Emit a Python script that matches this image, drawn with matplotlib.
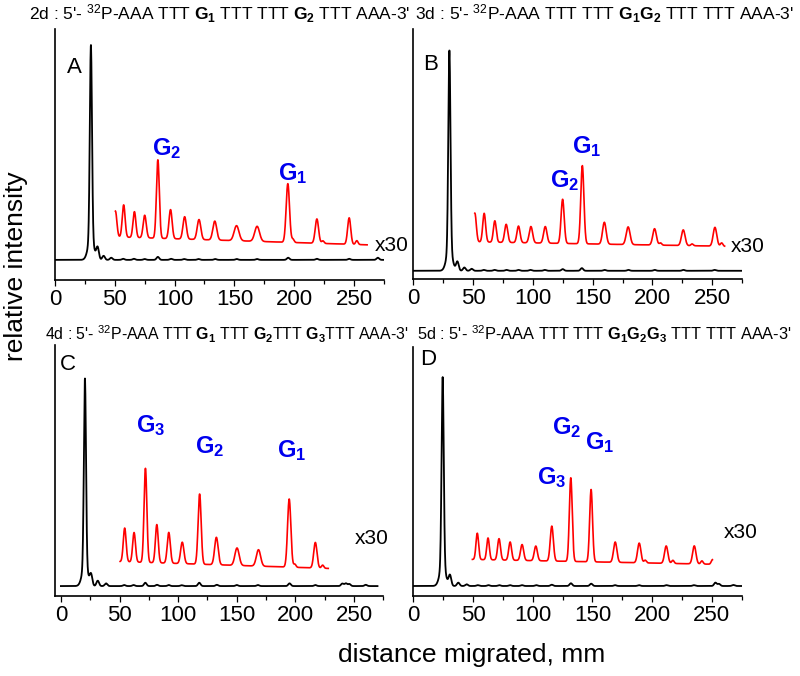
import numpy as np
import matplotlib.pyplot as plt
from matplotlib.ticker import MultipleLocator

plt.rcParams['font.family'] = ['Liberation Sans', 'DejaVu Sans']
plt.rcParams['mathtext.fontset'] = 'custom'
plt.rcParams['mathtext.rm'] = 'Liberation Sans'
plt.rcParams['mathtext.it'] = 'Liberation Sans:italic'
plt.rcParams['mathtext.bf'] = 'Liberation Sans:bold'

# --- panel A (2d) ---
a_main = 30.0
a_black_pos = [35.6, 40.6, 47, 57, 66, 75, 86, 97, 108, 120, 134, 152, 169, 195, 219, 246, 270]
a_black_h = [5.6, 1.9, 1.0, 0.5, 0.5, 0.4, 1.4, 0.5, 0.4, 0.4, 0.4, 0.4, 0.4, 1.0, 0.5, 0.5, 1.0]
a_red_pos = [50.5, 57.4, 66.4, 75, 86, 96.6, 108.4, 120.4, 133.6, 151.8, 169, 194.7, 199, 219, 224, 246, 252.4]
a_red_h = [12, 15, 12, 10.5, 36.5, 13.5, 10.4, 9.3, 8.8, 7, 7, 27.3, 1.5, 11.3, 1.2, 12.3, 1.8]
a_red_w = [1.2, 1.2, 1.2, 1.3, 1.2, 1.3, 1.4, 1.5, 1.6, 2.0, 2.0, 1.4, 1.0, 1.4, 1.0, 1.3, 1.0]
a_red_base = [10.7, 7.0]
a_red_range = [50.5, 261]

# --- panel B (3d) ---
b_main = 30.2
b_black_pos = [36.9, 42.7, 48.8, 59, 68, 78, 88, 98, 110, 125, 141, 160, 180, 202, 226, 252]
b_black_h = [4.1, 1.5, 0.9, 0.4, 0.4, 0.4, 0.4, 0.4, 0.4, 0.75, 1.2, 0.4, 0.4, 0.4, 0.4, 0.4]
b_red_pos = [51.5, 59.3, 68.2, 77.7, 88, 98.4, 110.4, 124.9, 141.4, 159.8, 179.7, 201.8, 206.8, 225.8, 233.2, 252.3, 257.9]
b_red_h = [13, 13, 9.7, 8.2, 7.5, 7.4, 7.5, 20, 35.4, 9.9, 8, 7.4, 1.0, 7.1, 0.8, 8.5, 1.5]
b_red_w = [1.2, 1.2, 1.2, 1.3, 1.3, 1.4, 1.4, 1.3, 1.3, 1.5, 1.6, 1.5, 1.0, 1.5, 1.0, 1.5, 1.0]
b_red_base = [13.1, 11.1]
b_red_range = [51.5, 260.4]

# --- panel C (4d) ---
c_main = 20.5
c_black_pos = [25.7, 31.4, 38.5, 54, 62, 72, 82, 92, 103, 118, 133, 150, 168, 195, 217, 240, 243, 246, 260]
c_black_h = [5.3, 2.6, 1.3, 0.5, 0.5, 1.6, 0.6, 0.5, 0.4, 1.6, 0.6, 0.5, 0.5, 1.3, 0.5, 1.2, 1.3, 1.0, 0.6]
c_red_pos = [54.4, 62.4, 72.1, 81.8, 92, 103.5, 118.3, 132.6, 150.2, 168.5, 194.7, 199.5, 217, 223.2]
c_red_h = [16.2, 14.2, 45.3, 18.4, 14.8, 10.3, 33.8, 13.2, 8.4, 7.9, 32.8, 1.5, 12.3, 1.5]
c_red_w = [1.2, 1.2, 1.2, 1.2, 1.3, 1.4, 1.3, 1.5, 1.8, 1.8, 1.4, 1.0, 1.4, 1.0]
c_red_base = [11.8, 8.5]
c_red_range = [50.5, 228]

# --- panel D (5d) ---
d_main = 24.6
d_black_pos = [30.7, 37.7, 44.7, 54, 63, 72, 81, 91, 103, 116, 132, 149, 169, 189, 212, 235, 253, 256, 268]
d_black_h = [5.1, 1.6, 0.8, 0.4, 0.4, 0.4, 0.4, 0.4, 0.4, 0.6, 1.3, 1.1, 0.4, 0.4, 0.4, 0.4, 1.6, 1.0, 0.5]
d_red_pos = [53.6, 62.6, 71.8, 81.1, 91.1, 102.6, 116, 131.9, 148.9, 169.1, 189.2, 194.2, 211.8, 217.4, 235.3, 241.7, 250.5]
d_red_h = [12.6, 10.4, 10.2, 8.7, 7.6, 7, 16.7, 40, 34.6, 9.7, 9.4, 1.3, 8.3, 1.5, 8.6, 1.5, 2.2]
d_red_w = [1.1, 1.1, 1.2, 1.2, 1.3, 1.3, 1.3, 1.2, 1.2, 1.4, 1.4, 1.0, 1.4, 1.0, 1.4, 1.0, 1.0]
d_red_base = [12.7, 10.4]
d_red_range = [49.5, 250.5]

titles = [
    r"2d : 5'- $^{32}$P-AAA TTT $\mathbf{G}_\mathbf{1}$ TTT TTT $\mathbf{G}_\mathbf{2}$ TTT AAA-3'",
    r"3d : 5'- $^{32}$P-AAA TTT TTT $\mathbf{G}_\mathbf{1}\mathbf{G}_\mathbf{2}$ TTT TTT AAA-3'",
    r"4d : 5'- $^{32}$P-AAA TTT $\mathbf{G}_\mathbf{1}$ TTT $\mathbf{G}_\mathbf{2}$TTT $\mathbf{G}_\mathbf{3}$TTT AAA-3'",
    r"5d : 5'- $^{32}$P-AAA TTT TTT $\mathbf{G}_\mathbf{1}\mathbf{G}_\mathbf{2}\mathbf{G}_\mathbf{3}$ TTT TTT AAA-3'",
]
letters = ['A', 'B', 'C', 'D']


def peaks(x, pos, h, w):
    y = np.zeros_like(x)
    for p, hh, ww in zip(pos, h, w):
        y += hh * np.exp(-0.5 * ((x - p) / ww) ** 2)
    return y


panels = [
    dict(main=a_main, bp=a_black_pos, bh=a_black_h, rp=a_red_pos, rh=a_red_h, rw=a_red_w,
         base=a_red_base, rr=a_red_range, bx=(0, 275), xlim=(0, 275), ylim=(-9.3, 107.4),
         rect=[0.0688, 0.586, 0.411, 0.371],
         labels=[('2', 81.3, 48.8), ('1', 186.3, 37.2)], x30=(267, 6.5), letter=(0.036, 0.825)),
    dict(main=b_main, bp=b_black_pos, bh=b_black_h, rp=b_red_pos, rh=b_red_h, rw=b_red_w,
         base=b_red_base, rr=b_red_range, bx=(0, 275), xlim=(0, 275), ylim=(-3.5, 109.5),
         rect=[0.5166, 0.588, 0.411, 0.369],
         labels=[('2', 114.6, 38.0), ('1', 132.8, 53.1)], x30=(265.5, 11.1), letter=(0.03, 0.836)),
    dict(main=c_main, bp=c_black_pos, bh=c_black_h, rp=c_red_pos, rh=c_red_h, rw=c_red_w,
         base=c_red_base, rr=c_red_range, bx=(0, 270), xlim=(-5, 275), ylim=(-4.8, 116),
         rect=[0.0688, 0.1183, 0.4104, 0.371],
         labels=[('3', 64.2, 74.3), ('2', 114, 63.9), ('1', 183.9, 62.3)], x30=(251, 23.1), letter=(0.015, 0.90)),
    dict(main=d_main, bp=d_black_pos, bh=d_black_h, rp=d_red_pos, rh=d_red_h, rw=d_red_w,
         base=d_red_base, rr=d_red_range, bx=(0, 275), xlim=(0, 275), ylim=(-4.8, 114.5),
         rect=[0.5166, 0.1183, 0.4105, 0.369],
         labels=[('2', 116, 72.5), ('1', 143.9, 65.3), ('3', 103.4, 48.6)], x30=(259.6, 25.6), letter=(0.02, 0.928)),
]

fig = plt.figure(figsize=(8, 6.76), dpi=100)

for i, p in enumerate(panels):
    ax = fig.add_axes(p['rect'])
    xb = np.linspace(p['bx'][0], p['bx'][1], 2200)
    yb = peaks(xb, [p['main'], p['main']], [90, 10], [0.9, 2.4])
    yb += peaks(xb, p['bp'], p['bh'], [1.1] * len(p['bp']))
    ax.plot(xb, yb, color='black', lw=1.3)

    xr = np.linspace(p['rr'][0], p['rr'][1], 1800)
    yr = np.linspace(p['base'][0], p['base'][1], xr.size) + peaks(xr, p['rp'], p['rh'], p['rw'])
    ax.plot(xr, yr, color='#ff0000', lw=1.2)

    ax.set_xlim(*p['xlim'])
    ax.set_ylim(*p['ylim'])
    ax.xaxis.set_major_locator(MultipleLocator(50))
    ax.xaxis.set_minor_locator(MultipleLocator(25))
    ax.set_yticks([])
    for s in ['top', 'right']:
        ax.spines[s].set_visible(False)
    for s in ['left', 'bottom']:
        ax.spines[s].set_linewidth(1.2)
    ax.tick_params(axis='x', which='major', length=4.5, width=0.9, labelsize=16, pad=2)
    ax.tick_params(axis='x', which='minor', length=2.8, width=0.9)
    ax.patch.set_alpha(0)

    for sub, lx, ly in p['labels']:
        ax.text(lx, ly, r'$\mathbf{G}_\mathbf{%s}$' % sub, color='#0000ee', fontsize=17,
                ha='left', va='baseline')
    ax.text(p['x30'][0], p['x30'][1], 'x30', fontsize=15, ha='left', va='center', clip_on=False)
    ax.text(p['letter'][0], p['letter'][1], letters[i], transform=ax.transAxes,
            fontsize=16, ha='left', va='baseline')

title_xy = [(29, 20), (415, 20), (45, 340), (417, 340)]
title_size = [12.5, 12.6, 11.4, 11.8]
for t, (tx, ty), fs in zip(titles, title_xy, title_size):
    fig.text(tx / 800, 1 - ty / 676, t, fontsize=fs, ha='left', va='baseline')

fig.text(16 / 800, 1 - 266 / 676, 'relative intensity', rotation=90, fontsize=19,
         ha='center', va='center')
fig.text(472 / 800, 1 - 655 / 676, 'distance migrated, mm', fontsize=19,
         ha='center', va='center')

fig.savefig('out.png', dpi=100)
